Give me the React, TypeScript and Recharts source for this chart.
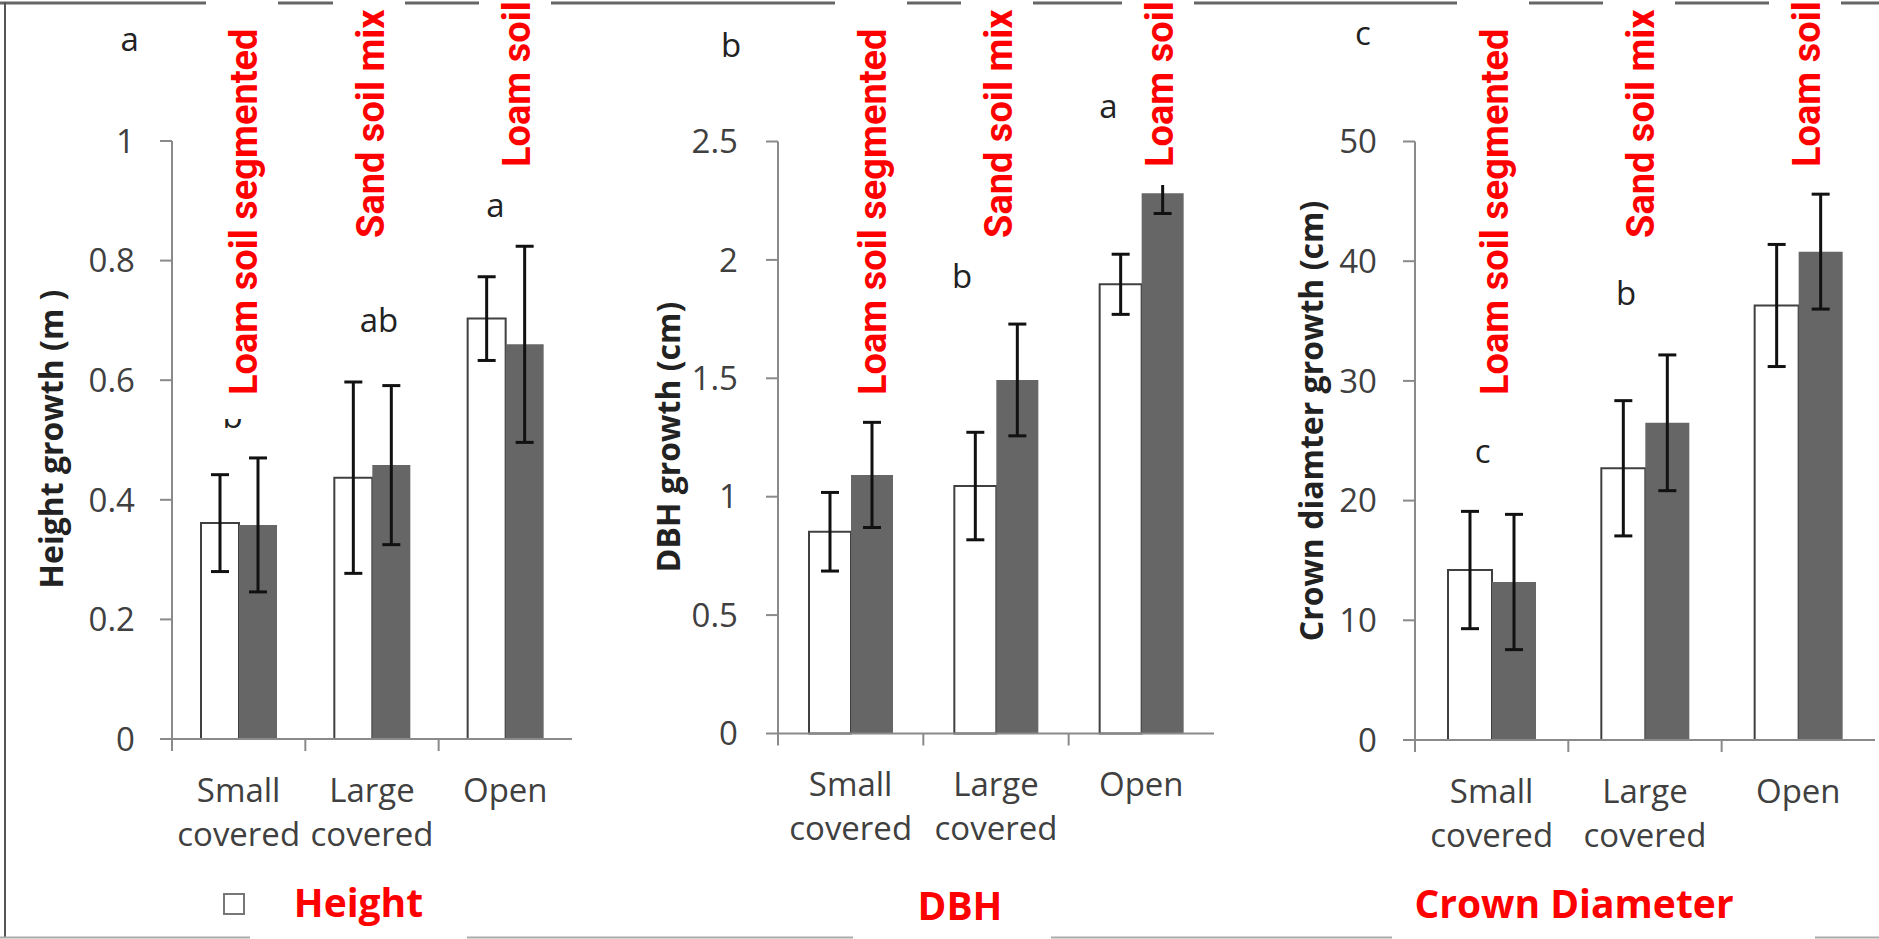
import { BarChart, Bar, XAxis, YAxis, ErrorBar, ReferenceDot } from "recharts";

const categories = ["Small covered", "Large covered", "Open"];

const heightWhite = [0.361, 0.437, 0.703];
const heightWhiteErr = [0.081, 0.16, 0.07];
const heightGray = [0.358, 0.458, 0.66];
const heightGrayErr = [0.112, 0.133, 0.164];

const dbhWhite = [0.852, 1.045, 1.897];
const dbhWhiteErr = [0.166, 0.227, 0.127];
const dbhGray = [1.092, 1.493, 2.281];
const dbhGrayErr = [0.222, 0.236, 0.085];

const crownWhite = [14.2, 22.7, 36.3];
const crownWhiteErr = [4.9, 5.65, 5.1];
const crownGray = [13.2, 26.5, 40.8];
const crownGrayErr = [5.65, 5.67, 4.8];

const heightTicks = [0, 0.2, 0.4, 0.6, 0.8, 1];
const dbhTicks = [0, 0.5, 1, 1.5, 2, 2.5];
const crownTicks = [0, 10, 20, 30, 40, 50];

// significance letters over the bar groups (category, value of the letter baseline)
const heightSig = [
  { cat: "Small covered", y: 0.52, text: "b" },
  { cat: "Large covered", y: 0.681, text: "ab" },
  { cat: "Open", y: 0.873, text: "a" },
];
const dbhSig = [
  { cat: "Large covered", y: 1.881, text: "b" },
  { cat: "Open", y: 2.599, text: "a" },
];
const crownSig = [
  { cat: "Small covered", y: 23.14, text: "c" },
  { cat: "Large covered", y: 36.34, text: "b" },
];

const soilLabels = ["Loam soil segmented", "Sand soil mix", "Loam soil"];
const panelLetters = ["a", "b", "c"];
const axisTitles = ["Height growth (m )", "DBH growth (cm)", "Crown diamter growth (cm)"];
const panelTitles = ["Height", "DBH", "Crown Diameter"];

const W = 1879;
const H = 939;
const AXIS = "#8a8a8a";
const TXT = "#404040";
const RED = "#ff0000";

const build = (w: number[], we: number[], g: number[], ge: number[]) =>
  categories.map((cat, i) => ({ cat, white: w[i], whiteErr: we[i], gray: g[i], grayErr: ge[i] }));

// layout of each panel (pixels)
const layout = [
  { left: 0, axisW: 172, band: 133.33, top: 141, zero: 739, bar: 38, tickMargin: 25, sigDx: [-6, 7, -10] },
  { left: 620, axisW: 158, band: 145.33, top: 141.5, zero: 733.5, bar: 42, tickMargin: 28, sigDx: [-34, -33] },
  { left: 1250, axisW: 165, band: 153.33, top: 141.5, zero: 740, bar: 44, tickMargin: 26, sigDx: [-9, -19] },
];
const labelX = [
  [257, 384, 530],
  [886, 1012, 1173],
  [1508, 1654, 1820],
];
const labelBottom = [395, 238, 167];
const boxBottom = [419, 259, 185];
const letterPos = [
  [129.6, 51],
  [731, 57],
  [1363, 45],
];
const titlePos = [
  [63, 439],
  [680, 437],
  [1323, 421],
];
const bottomBoxes = [
  { x: 250, y: 877, w: 217, h: 64, cx: 358.5, base: 917 },
  { x: 853, y: 877, w: 198, h: 64, cx: 960, base: 920 },
  { x: 1392, y: 863, w: 423, h: 78, cx: 1574, base: 918 },
];

function CatTick(props: any) {
  const { x, y, payload, band } = props;
  const lines = String(payload.value).split(" ");
  const tx = x - band / 2;
  return (
    <g>
      <line x1={tx} x2={tx} y1={y} y2={y + 12} stroke={AXIS} strokeWidth={2} />
      <text textAnchor="middle" fontSize={33} fill={TXT}>
        {lines.map((l, i) => (
          <tspan key={i} x={x} y={y + 63 + i * 44}>
            {l}
          </tspan>
        ))}
      </text>
    </g>
  );
}

function Panel({ data, ticks, domain, cfg, sig }: any) {
  const width = cfg.axisW + cfg.band * categories.length;
  return (
    <div style={{ position: "absolute", left: cfg.left, top: 0 }}>
      <BarChart
        width={width}
        height={H}
        data={data}
        margin={{ top: cfg.top, right: 0, bottom: 0, left: 0 }}
        barGap={0}
        barSize={cfg.bar}
      >
        <XAxis
          dataKey="cat"
          interval={0}
          height={H - cfg.zero}
          tickSize={0}
          tickMargin={0}
          tickLine={false}
          axisLine={{ stroke: AXIS, strokeWidth: 2 }}
          tick={(p: any) => <CatTick {...p} band={cfg.band} />}
        />
        <YAxis
          type="number"
          domain={domain}
          ticks={ticks}
          interval={0}
          width={cfg.axisW}
          tickSize={12}
          tickMargin={cfg.tickMargin}
          axisLine={{ stroke: AXIS, strokeWidth: 2 }}
          tickLine={{ stroke: AXIS, strokeWidth: 2 }}
          tick={{ fontSize: 33, fill: TXT }}
        />
        <Bar dataKey="white" fill="#ffffff" stroke="#404040" strokeWidth={2} isAnimationActive={false}>
          <ErrorBar dataKey="whiteErr" direction="y" width={9} strokeWidth={3} stroke="#111" isAnimationActive={false} />
        </Bar>
        <Bar dataKey="gray" fill="#666666" isAnimationActive={false}>
          <ErrorBar dataKey="grayErr" direction="y" width={9} strokeWidth={3} stroke="#111" isAnimationActive={false} />
        </Bar>
        {sig.map((s: any, i: number) => (
          <ReferenceDot
            key={i}
            x={s.cat}
            y={s.y}
            r={0}
            ifOverflow="visible"
            shape={(p: any) => (
              <text x={p.cx + cfg.sigDx[i]} y={p.cy} textAnchor="middle" fontSize={33} fill="#222">
                {s.text}
              </text>
            )}
          />
        ))}
      </BarChart>
    </div>
  );
}

export default function App() {
  return (
    <div
      style={{
        position: "absolute",
        left: 0,
        top: 0,
        width: W,
        height: H,
        overflow: "hidden",
        background: "#fff",
        fontFamily: "'Open Sans', sans-serif",
      }}
    >
      <Panel
        data={build(heightWhite, heightWhiteErr, heightGray, heightGrayErr)}
        ticks={heightTicks}
        domain={[0, 1]}
        cfg={layout[0]}
        sig={heightSig}
      />
      <Panel
        data={build(dbhWhite, dbhWhiteErr, dbhGray, dbhGrayErr)}
        ticks={dbhTicks}
        domain={[0, 2.5]}
        cfg={layout[1]}
        sig={dbhSig}
      />
      <Panel
        data={build(crownWhite, crownWhiteErr, crownGray, crownGrayErr)}
        ticks={crownTicks}
        domain={[0, 50]}
        cfg={layout[2]}
        sig={crownSig}
      />
      <svg width={W} height={H} style={{ position: "absolute", left: 0, top: 0, pointerEvents: "none" }}>
        <line x1={0} x2={W} y1={3} y2={3} stroke="#666" strokeWidth={3} />
        <line x1={5} x2={5} y1={2} y2={938} stroke="#555" strokeWidth={2} />
        <line x1={0} x2={W} y1={937.5} y2={937.5} stroke="#aaa" strokeWidth={2} />
        {panelLetters.map((l, p) => (
          <text key={l} x={letterPos[p][0]} y={letterPos[p][1]} textAnchor="middle" fontSize={33} fill="#222">
            {l}
          </text>
        ))}
        {axisTitles.map((t, p) => (
          <text
            key={t}
            x={titlePos[p][0]}
            y={titlePos[p][1]}
            transform={`rotate(-90 ${titlePos[p][0]} ${titlePos[p][1]})`}
            textAnchor="middle"
            fontSize={32}
            fontWeight="bold"
            fill="#222"
          >
            {t}
          </text>
        ))}
        {labelX.map((row, p) =>
          row.map((bx, j) => (
            <g key={`${p}-${j}`}>
              <rect x={bx - 51} y={-2} width={72} height={boxBottom[j] + 2} fill="#fff" />
              <text
                x={bx}
                y={labelBottom[j]}
                transform={`rotate(-90 ${bx} ${labelBottom[j]})`}
                fontFamily="Roboto, sans-serif"
                fontSize={38}
                fontWeight="bold"
                fill={RED}
              >
                {soilLabels[j]}
              </text>
            </g>
          ))
        )}
        {bottomBoxes.map((b, p) => (
          <g key={p}>
            <rect x={b.x} y={b.y} width={b.w} height={b.h} fill="#fff" />
            <text x={b.cx} y={b.base} textAnchor="middle" fontSize={39} fontWeight="bold" fill={RED}>
              {panelTitles[p]}
            </text>
          </g>
        ))}
        <rect x={224} y={894} width={20} height={20} fill="#fff" stroke="#777" strokeWidth={2} />
      </svg>
    </div>
  );
}
